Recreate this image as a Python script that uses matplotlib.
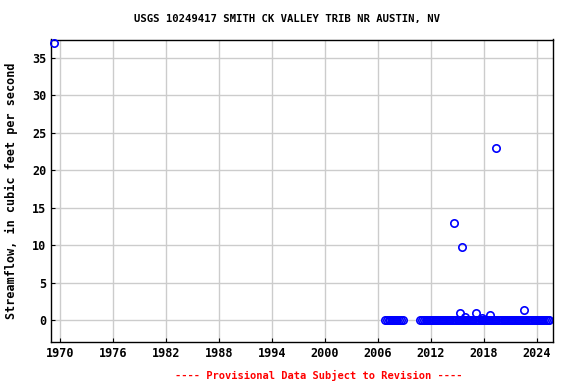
import matplotlib
matplotlib.use("Agg")
import matplotlib.pyplot as plt

# Data (decimal years, flow in cfs)
peak_years = [1969.3, 2014.6, 2015.5, 2019.4, 2022.5, 2015.3, 2015.8, 2017.1, 2017.8, 2018.7]
peak_flows = [37.0, 13.0, 9.7, 23.0, 1.3, 0.9, 0.4, 0.9, 0.3, 0.6]

zero_years_a = [2006.8, 2007.0, 2007.2, 2007.4, 2007.6, 2007.8, 2008.0, 2008.2, 2008.4, 2008.6, 2008.8]
zero_years_b = [2010.8, 2011.0, 2011.2, 2011.4, 2011.6, 2011.8, 2012.0, 2012.2, 2012.4, 2012.6,
                2012.8, 2013.0, 2013.2, 2013.4, 2013.6, 2013.8, 2014.0, 2014.2, 2014.4, 2014.6,
                2014.8, 2015.0, 2015.2, 2015.4, 2015.6, 2015.8, 2016.0, 2016.2, 2016.4, 2016.6,
                2016.8, 2017.0, 2017.2, 2017.4, 2017.6, 2017.8, 2018.0, 2018.2, 2018.4, 2018.6,
                2018.8, 2019.0, 2019.2, 2019.4, 2019.6, 2019.8, 2020.0, 2020.2, 2020.4, 2020.6,
                2020.8, 2021.0, 2021.2, 2021.4, 2021.6, 2021.8, 2022.0, 2022.2, 2022.4, 2022.6,
                2022.8, 2023.0, 2023.2, 2023.4, 2023.6, 2023.8, 2024.0, 2024.2, 2024.4, 2024.6,
                2024.8, 2025.0, 2025.2, 2025.4]
zero_years = zero_years_a + zero_years_b
zero_flows = [0.0] * len(zero_years)

x_ticks = [1970, 1976, 1982, 1988, 1994, 2000, 2006, 2012, 2018, 2024]
y_ticks = [0, 5, 10, 15, 20, 25, 30, 35]

font = "DejaVu Sans Mono"
fig = plt.figure(figsize=(5.76, 3.84), dpi=100)
ax = fig.add_axes([51/576, 1 - 342/384, (553-51)/576, (342-39.5)/384])

ax.plot(zero_years, zero_flows, linestyle="none", marker="o", markersize=5.3,
        markerfacecolor="none", markeredgecolor="#0000ff", markeredgewidth=1.2)
ax.plot(peak_years, peak_flows, linestyle="none", marker="o", markersize=5.3,
        markerfacecolor="none", markeredgecolor="#0000ff", markeredgewidth=1.2,
        clip_on=False, zorder=5)

ax.set_xlim(1969.0, 2025.8)
ax.set_ylim(-2.94, 37.45)
ax.set_xticks(x_ticks)
ax.set_yticks(y_ticks)
ax.grid(True, color="#cccccc", linewidth=1)
ax.set_axisbelow(True)
ax.tick_params(direction="in", length=3, labelsize=8.5)
for lab in ax.get_xticklabels() + ax.get_yticklabels():
    lab.set_fontfamily(font)
    lab.set_fontweight("bold")
for s in ax.spines.values():
    s.set_linewidth(1)

ax.set_ylabel("Streamflow, in cubic feet per second", fontfamily=font,
              fontweight="bold", fontsize=8.5, labelpad=10)
fig.text(287/576, 1 - 19/384, "USGS 10249417 SMITH CK VALLEY TRIB NR AUSTIN, NV",
         ha="center", va="center", fontfamily=font, fontweight="bold", fontsize=7.7)
fig.text(318.5/576, 1 - 375/384, "---- Provisional Data Subject to Revision ----",
         ha="center", va="center", fontfamily=font, fontweight="bold", fontsize=7.5,
         color="red")

fig.savefig("out.png", dpi=100)
